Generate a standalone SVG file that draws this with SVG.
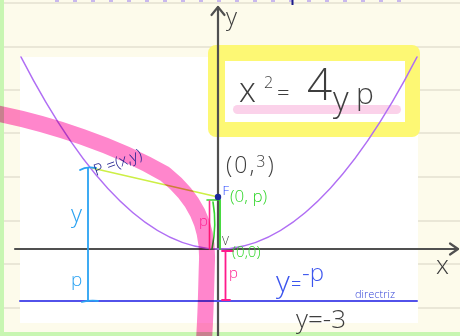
<svg xmlns="http://www.w3.org/2000/svg" width="460" height="336" viewBox="0 0 460 336">
<style>
.rule{stroke:#e3e0d1;stroke-width:1.5}
.axis{stroke:#505050;stroke-width:2.2;fill:none;stroke-linecap:round;stroke-linejoin:round}
.hand{font-family:"Open Sans","Liberation Sans","DejaVu Sans",sans-serif;font-weight:300}
.gray{fill:#3e3e3e}
.green{fill:#33d62c}
.blue{fill:#3c55ee}
.lblue{fill:#2aa2f2}
.mag{fill:#ff2090}
.navy{fill:#16168a}
</style>
<rect x="0" y="0" width="460" height="336" fill="#fdfbeb"/>
<g id="rules">
<line class="rule" x1="4" y1="3" x2="460" y2="3"/>
<line class="rule" x1="4" y1="47" x2="460" y2="47"/>
<line class="rule" x1="4" y1="90" x2="460" y2="90"/>
<line class="rule" x1="4" y1="133" x2="460" y2="133"/>
<line class="rule" x1="4" y1="177" x2="460" y2="177"/>
<line class="rule" x1="4" y1="221" x2="460" y2="221"/>
<line class="rule" x1="4" y1="264" x2="460" y2="264"/>
<line class="rule" x1="4" y1="308" x2="460" y2="308"/>
</g>
<path d="M55 1 H415" stroke="#c9b8ee" stroke-width="2" stroke-dasharray="4 14"/>
<line x1="292.5" y1="0" x2="292.5" y2="5" stroke="#1a1a8a" stroke-width="2"/>
<rect x="0" y="0" width="4" height="336" fill="#c8f6b2"/>
<rect x="0" y="332" width="460" height="4" fill="#c8f6b2"/>
<rect x="20" y="57" width="398" height="266" fill="#ffffff"/>

<g id="formula">
<rect x="208" y="45" width="212" height="92" rx="8" fill="#fdf874"/>
<rect x="225" y="61" width="180" height="61" fill="#ffffff"/>
<rect x="233" y="105" width="168" height="9" rx="4.5" fill="#fbd2ea"/>
<text class="hand gray" y="102"><tspan x="239" font-size="34">x</tspan><tspan x="264" y="88" font-size="16">2</tspan><tspan x="277" y="100" font-size="22">=</tspan><tspan x="307" y="100" font-size="44">4</tspan><tspan x="333" y="111" font-size="34">y</tspan><tspan x="356" y="104" font-size="30">p</tspan></text>
</g>

<g id="axes">
<path class="axis" d="M218 7 V336"/>
<path class="axis" d="M211.5 15 L218 7 L224.5 15"/>
<path class="axis" d="M15 249 H458"/>
<path class="axis" d="M450 243.5 L458 249 L450 254.5"/>
<text class="hand gray" x="226" y="25" font-size="24">y</text>
<text class="hand gray" x="436" y="274" font-size="26">x</text>
</g>

<g id="connectors" fill="none" stroke-linecap="round">
<path id="parabola" d="M21 57 Q219 441 417 57" stroke="#b06ef4" stroke-width="1.6"/>
<path id="directrix" d="M20 301 H417" stroke="#5252ea" stroke-width="2"/>
<path id="pf" d="M92 168 L218 197" stroke="#cdef45" stroke-width="1.6"/>
<path id="py" d="M88 168 V301" stroke="#2aa2f2" stroke-width="1.8"/>
<path d="M80 170 Q86 166 96 168" stroke="#2aa2f2" stroke-width="1.8"/>
<path d="M82 302 Q90 300 98 301" stroke="#2aa2f2" stroke-width="1.8"/>
<path id="fv" d="M220 200 V249" stroke="#33d62c" stroke-width="1.8"/>
<path d="M207 200 H219" stroke="#33d62c" stroke-width="1.6"/>
<path d="M213 202 Q217 225 212 249" stroke="#33d62c" stroke-width="1.6"/>
<path id="pleft" d="M209.5 201 V249" stroke="#ff2a8e" stroke-width="1.6"/>
<path id="pbottom" d="M225.5 251 V300 M222 251 H233 M222 300 H230" stroke="#ff1a8c" stroke-width="1.8"/>
</g>

<g id="focus">
<circle cx="218" cy="197" r="3.2" fill="#1a2a9a"/>
<text class="hand" x="222.5" y="195" font-size="13" font-weight="400" fill="#2545ff">F</text>
<text class="hand green" x="230" y="202" font-size="17" font-weight="400">(0, p)</text>
<text class="hand gray" x="226" y="173" font-size="23" letter-spacing="2">(0,<tspan font-size="16" dy="-6">3</tspan><tspan dy="6">)</tspan></text>
</g>
<g id="vertex">
<text class="hand gray" x="222" y="245" font-size="12">V</text>
<text class="hand green" x="232" y="257" font-size="15" font-weight="400">(0,0)</text>
</g>

<path id="highlight" d="M-5 113 C50 124,115 145,165 174 C195 198,208 225,207 260 C206 290,206 310,204 340" fill="none" stroke="#ff86cc" stroke-width="16" style="mix-blend-mode:multiply"/>

<g id="point">
<text class="hand navy" x="96" y="176" font-size="16" font-weight="400" transform="rotate(-20 96 176)">P =(x,y)</text>
<text class="hand lblue" x="71" y="222" font-size="24">y</text>
<text class="hand lblue" x="71" y="286" font-size="19">p</text>
<text class="hand mag" x="199" y="226" font-size="15" font-weight="400">p</text>
<text class="hand mag" x="229" y="278" font-size="15" font-weight="400">p</text>
</g>

<g id="directrix-labels">
<text class="hand blue" x="276" y="292" font-size="30">y</text>
<text class="hand blue" x="291" y="290" font-size="18">=</text>
<text class="hand blue" x="302" y="281" font-size="24">-p</text>
<text class="hand" x="355" y="298" font-size="11" font-weight="400" fill="#2e3fd6">directriz</text>
<text class="hand gray" x="296" y="328" font-size="26">y=-3</text>
</g>
</svg>
